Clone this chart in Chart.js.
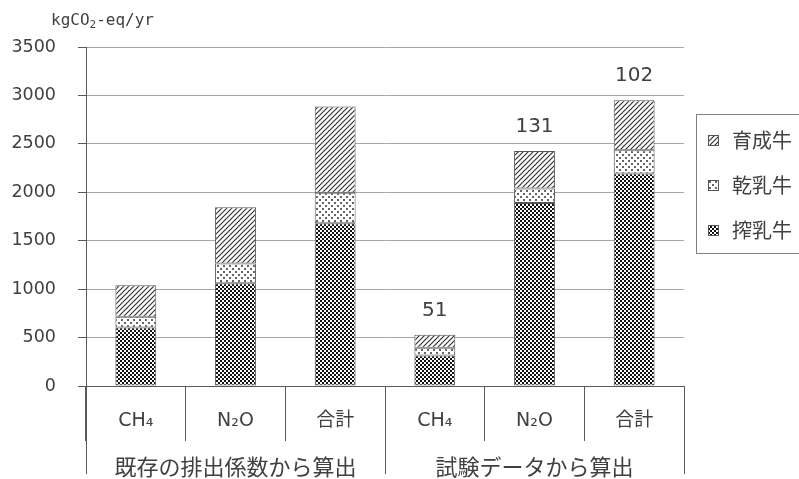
<!DOCTYPE html>
<html>
<head>
<meta charset="utf-8">
<script src="https://cdn.jsdelivr.net/npm/chart.js@4/dist/chart.umd.min.js"></script>
<style>
  html, body { margin: 0; padding: 0; background: #fff; }
  #wrap { width: 799px; height: 479px; position: relative; }
</style>
</head>
<body>
<div id="wrap"><canvas id="chart"></canvas></div>
<script>
// Categories: gas type per calculation method
const categories = ['CH₄', 'N₂O', '合計', 'CH₄', 'N₂O', '合計'];
const groups = ['既存の排出係数から算出', '試験データから算出'];
const seriesNames = ['搾乳牛', '乾乳牛', '育成牛'];

// Emissions in kgCO2-eq/yr, stacked bottom to top
const milkingCows = [605, 1060, 1680, 315, 1890, 2195];
const dryCows = [110, 205, 315, 80, 150, 240];
const heifers = [325, 580, 890, 135, 385, 515];

// Ratio (%) of test-data totals to existing-factor totals
const ratioLabels = ['', '', '', '51', '131', '102'];

const yMin = 0, yMax = 3500, yStep = 500;
const unitParts = ['kgCO', '2', '-eq/yr'];

const TEXT = '#404040';
const LINE = '#595959';

function makePattern(size, draw) {
  const c = document.createElement('canvas');
  c.width = size; c.height = size;
  const g = c.getContext('2d');
  g.fillStyle = '#fff';
  g.fillRect(0, 0, size, size);
  draw(g, size);
  return g.createPattern(c, 'repeat');
}

// checkerboard for milking cows
const checker = makePattern(4, g => {
  g.fillStyle = '#111';
  g.fillRect(0, 0, 2, 2);
  g.fillRect(2, 2, 2, 2);
});
// sparse dots for dry cows
const dotted = makePattern(6, g => {
  g.fillStyle = '#666';
  g.fillRect(1, 1, 2, 2);
  g.fillRect(4, 4, 2, 2);
});
// forward diagonal hatch for heifers
const hatch = makePattern(5, (g, s) => {
  g.strokeStyle = '#333';
  g.lineWidth = 1.2;
  g.beginPath();
  g.moveTo(0, s); g.lineTo(s, 0);
  g.moveTo(-1, 1); g.lineTo(1, -1);
  g.moveTo(s - 1, s + 1); g.lineTo(s + 1, s - 1);
  g.stroke();
});

const fills = [checker, dotted, hatch];
const seriesData = [milkingCows, dryCows, heifers];

const unitTitle = {
  id: 'unitTitle',
  afterDraw(chart) {
    const ctx = chart.ctx;
    ctx.save();
    ctx.fillStyle = TEXT;
    ctx.textBaseline = 'alphabetic';
    ctx.textAlign = 'left';
    let x = 51;
    const y = 25;
    ctx.font = '16px "DejaVu Sans Mono"';
    ctx.fillText(unitParts[0], x, y);
    x += ctx.measureText(unitParts[0]).width;
    ctx.font = '11px "DejaVu Sans Mono"';
    ctx.fillText(unitParts[1], x, y + 3);
    x += ctx.measureText(unitParts[1]).width;
    ctx.font = '16px "DejaVu Sans Mono"';
    ctx.fillText(unitParts[2], x, y);
    ctx.restore();
  }
};

// left edge of the category table continues the value axis line downward
const tableEdge = {
  id: 'tableEdge',
  afterDraw(chart) {
    const ctx = chart.ctx;
    const area = chart.chartArea;
    const xg = chart.scales.xg;
    const x = Math.round(area.left) + 0.5;
    ctx.save();
    ctx.strokeStyle = LINE;
    ctx.lineWidth = 1;
    ctx.beginPath();
    ctx.moveTo(x, area.bottom);
    ctx.lineTo(x, xg.top + xg.options.grid.tickLength);
    ctx.stroke();
    ctx.restore();
  }
};

const ratioText = {
  id: 'ratioText',
  afterDatasetsDraw(chart) {
    const ctx = chart.ctx;
    const top = chart.getDatasetMeta(chart.data.datasets.length - 1);
    ctx.save();
    ctx.fillStyle = TEXT;
    ctx.font = '20px "DejaVu Sans"';
    ctx.textAlign = 'center';
    ctx.textBaseline = 'middle';
    ratioLabels.forEach((t, i) => {
      if (!t) return;
      const el = top.data[i];
      ctx.fillText(t, el.x, el.y - 24);
    });
    ctx.restore();
  }
};

const legendBox = {
  id: 'legendBox',
  afterDraw(chart) {
    const ctx = chart.ctx;
    const area = chart.chartArea;
    const left = area.right + 12;
    const top = 114, bottom = 253;
    ctx.save();
    ctx.strokeStyle = '#7f7f7f';
    ctx.lineWidth = 1;
    ctx.strokeRect(left + 0.5, top + 0.5, chart.width - left + 10, bottom - top);
    const order = [2, 1, 0];
    ctx.font = '20px "Noto Sans CJK JP"';
    ctx.textBaseline = 'middle';
    ctx.textAlign = 'left';
    order.forEach((di, k) => {
      const ds = chart.data.datasets[di];
      const cy = 140 + k * 45;
      ctx.fillStyle = ds.backgroundColor;
      ctx.fillRect(left + 12, cy - 5, 11, 11);
      ctx.strokeStyle = '#555';
      ctx.strokeRect(left + 12.5, cy - 4.5, 10, 10);
      ctx.fillStyle = TEXT;
      ctx.fillText(ds.label, left + 36, cy);
    });
    ctx.restore();
  }
};

new Chart(document.getElementById('chart'), {
  type: 'bar',
  data: {
    labels: categories,
    datasets: seriesNames.map((name, i) => ({
      label: name,
      data: seriesData[i],
      backgroundColor: fills[i],
      borderColor: '#555',
      borderWidth: 1,
      borderSkipped: false
    }))
  },
  options: {
    responsive: true,
    maintainAspectRatio: false,
    animation: false,
    layout: { padding: { left: 11, top: 47, right: 115, bottom: 0 } },
    datasets: { bar: { categoryPercentage: 1, barPercentage: 0.41 } },
    plugins: {
      legend: { display: false },
      tooltip: { enabled: false }
    },
    scales: {
      x: {
        stacked: true,
        weight: 0,
        offset: true,
        afterFit(scale) { scale.height = 48; },
        grid: { display: true, drawOnChartArea: false, offset: true, tickLength: 55, color: LINE },
        border: { display: true, color: LINE },
        ticks: {
          color: TEXT,
          padding: -31,
          maxRotation: 0,
          autoSkip: false,
          font: { family: '"DejaVu Sans", "Noto Sans CJK JP"', size: 19 }
        }
      },
      xg: {
        type: 'category',
        labels: groups,
        position: 'bottom',
        weight: 1,
        offset: true,
        afterFit(scale) { scale.height = 45; },
        grid: { display: true, drawOnChartArea: false, offset: true, tickLength: 40, color: LINE },
        border: { display: false },
        ticks: {
          color: TEXT,
          padding: -21,
          maxRotation: 0,
          autoSkip: false,
          font: { family: '"Noto Sans CJK JP"', size: 22 }
        }
      },
      y: {
        stacked: true,
        min: yMin,
        max: yMax,
        afterFit(scale) { scale.width = 75; },
        grid: { color: '#a6a6a6', tickLength: 8, tickColor: LINE },
        border: { display: true, color: LINE },
        ticks: {
          stepSize: yStep,
          padding: 22,
          color: TEXT,
          font: { family: '"DejaVu Sans"', size: 17.5 },
          callback: v => String(v)
        }
      }
    }
  },
  plugins: [unitTitle, tableEdge, ratioText, legendBox]
});
</script>
</body>
</html>
